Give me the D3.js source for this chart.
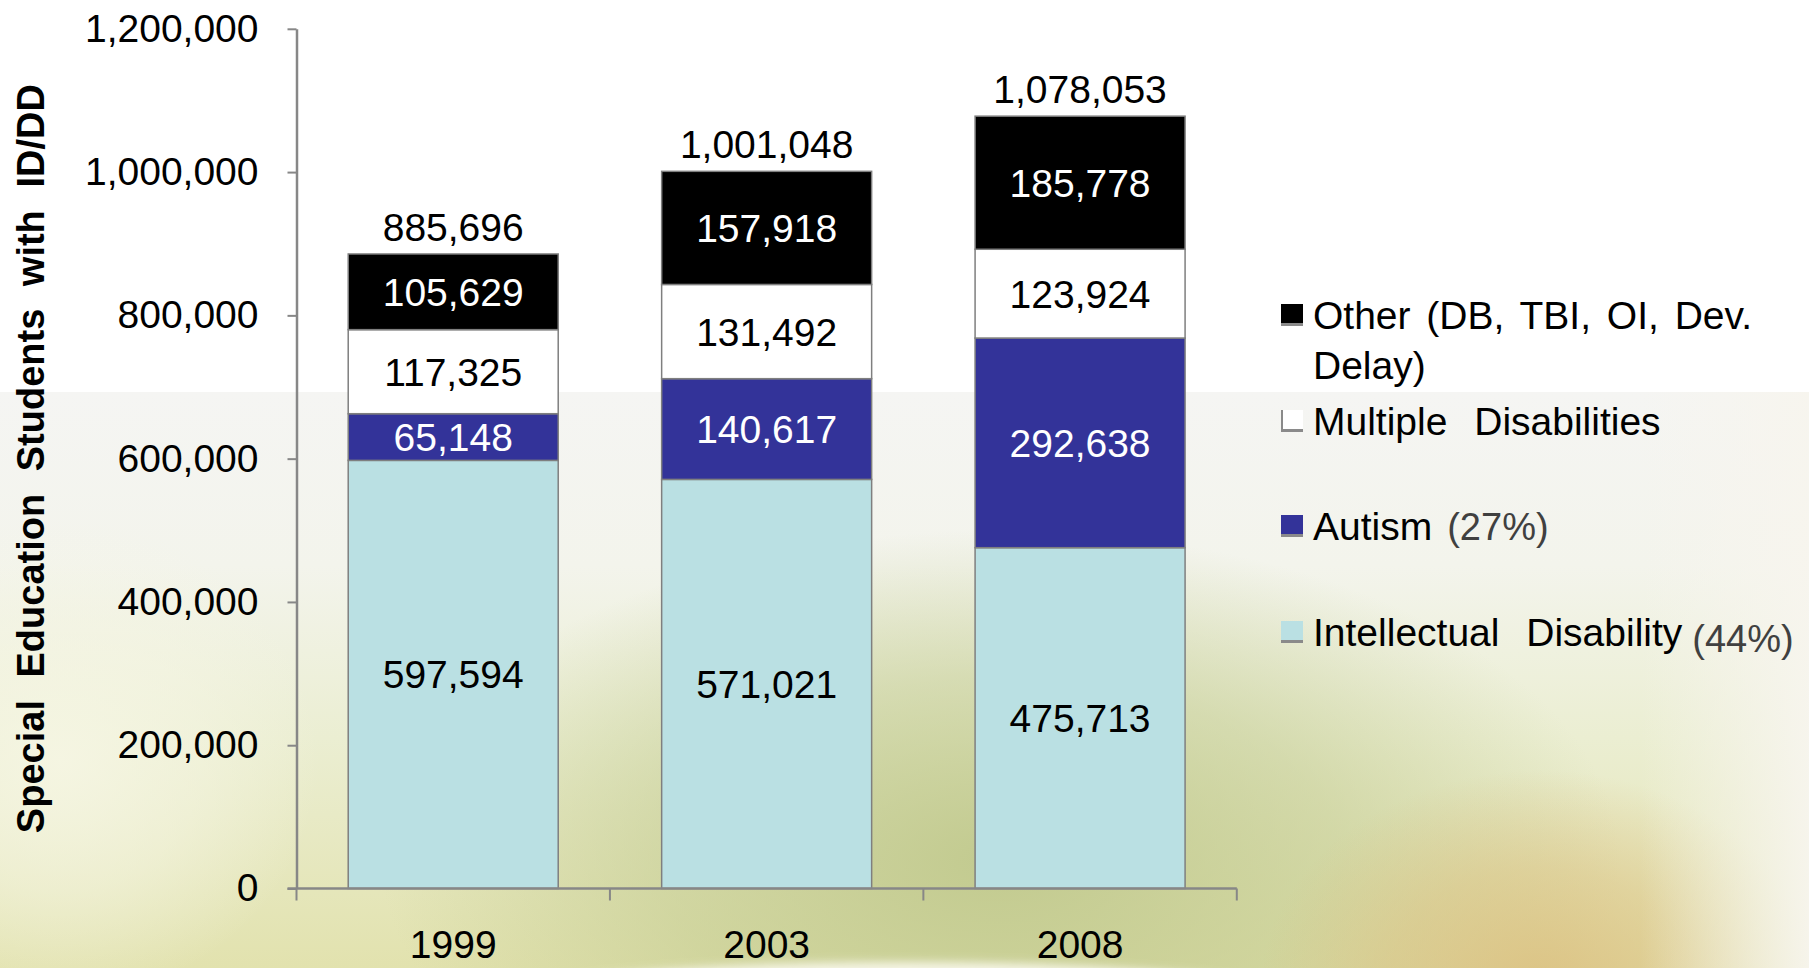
<!DOCTYPE html>
<html>
<head>
<meta charset="utf-8">
<script src="https://cdn.jsdelivr.net/npm/d3@7"></script>
<style>
  html, body { margin: 0; padding: 0; background: #ffffff; }
  svg { display: block; }
  text { font-family: "Liberation Sans", Arial, sans-serif; }
</style>
</head>
<body>
<svg id="chart" width="1809" height="968"></svg>
<script>
// ---------- data ----------
const categories = ["1999", "2003", "2008"];
const seriesKeys = ["intellectual", "autism", "multiple", "other"];
const intellectual = [597594, 571021, 475713];
const autism = [65148, 140617, 292638];
const multiple = [117325, 131492, 123924];
const other = [105629, 157918, 185778];
const totals = [885696, 1001048, 1078053];
const yTicks = [0, 200000, 400000, 600000, 800000, 1000000, 1200000];
const legendItems = [
  { key: "other", lines: ["Other (DB, TBI, OI, Dev.", "Delay)"], note: "" },
  { key: "multiple", lines: ["Multiple Disabilities"], note: "" },
  { key: "autism", lines: ["Autism"], note: "(27%)" },
  { key: "intellectual", lines: ["Intellectual Disability"], note: "(44%)" }
];
const yTitle = "Special Education Students with ID/DD";

// ---------- styles ----------
const colors = { intellectual: "#bae0e3", autism: "#333399", multiple: "#ffffff", other: "#000000" };
const labelColors = { intellectual: "#000000", autism: "#ffffff", multiple: "#000000", other: "#ffffff" };
const wordSpacing = { other: 5, multiple: 16, autism: 5, intellectual: 16 };
const axisColor = "#878787";

const W = 1809, H = 968;
const plot = { left: 296.5, right: 1236.8, top: 28.8, bottom: 888.5 };

const svg = d3.select("#chart");
const defs = svg.append("defs");

// ---------- background ----------
const lg = defs.append("linearGradient").attr("id", "bgV").attr("x1", 0).attr("y1", 0).attr("x2", 0).attr("y2", 1);
[[0, "#f5f5f3"], [0.3, "#f3f4ec"], [0.6, "#ebeed2"], [1, "#e2e2ae"]].forEach(s =>
  lg.append("stop").attr("offset", s[0]).attr("stop-color", s[1]));

function radial(id, color, op) {
  const g = defs.append("radialGradient").attr("id", id);
  g.append("stop").attr("offset", 0).attr("stop-color", color).attr("stop-opacity", op);
  g.append("stop").attr("offset", 0.55).attr("stop-color", color).attr("stop-opacity", op * 0.55);
  g.append("stop").attr("offset", 1).attr("stop-color", color).attr("stop-opacity", 0);
}
radial("greenBlob", "#bec78a", 0.9);
radial("tanBlob", "#dcc080", 0.9);
radial("paleBlob", "#f6f6e4", 0.9);

const rg = defs.append("linearGradient").attr("id", "rightFade").attr("x1", 0).attr("y1", 0).attr("x2", 1).attr("y2", 0);
rg.append("stop").attr("offset", 0).attr("stop-color", "#f7f5ee").attr("stop-opacity", 0);
rg.append("stop").attr("offset", 1).attr("stop-color", "#f7f5ee").attr("stop-opacity", 0.95);

defs.append("filter").attr("id", "blur").attr("x", "-20%").attr("y", "-80%").attr("width", "140%").attr("height", "260%")
  .append("feGaussianBlur").attr("stdDeviation", 5);

const bg = svg.append("g");
bg.append("rect").attr("width", W).attr("height", H).attr("fill", "#ffffff");
const lower = bg.append("g");
lower.append("rect").attr("x", 0).attr("y", 392).attr("width", W).attr("height", H - 392).attr("fill", "url(#bgV)");
const clipBg = defs.append("clipPath").attr("id", "clipLower");
clipBg.append("rect").attr("x", 0).attr("y", 392).attr("width", W).attr("height", H - 392);
const blobs = lower.append("g").attr("clip-path", "url(#clipLower)");
blobs.append("ellipse").attr("cx", 1000).attr("cy", 860).attr("rx", 620).attr("ry", 330).attr("fill", "url(#greenBlob)");
blobs.append("ellipse").attr("cx", 1540).attr("cy", 990).attr("rx", 280).attr("ry", 220).attr("fill", "url(#tanBlob)");
blobs.append("ellipse").attr("cx", 60).attr("cy", 760).attr("rx", 260).attr("ry", 240).attr("fill", "url(#paleBlob)");
blobs.append("rect").attr("x", 1640).attr("y", 392).attr("width", 169).attr("height", H - 392).attr("fill", "url(#rightFade)");
blobs.append("ellipse").attr("cx", 905).attr("cy", 1000).attr("rx", 400).attr("ry", 38)
  .attr("fill", "#f8f7ea").attr("opacity", 0.95).attr("filter", "url(#blur)");

// ---------- scales ----------
const x = d3.scaleBand().domain(categories).range([plot.left, plot.right]).paddingInner(0.33).paddingOuter(0.165);
const xb = d3.scaleBand().domain(categories).range([plot.left, plot.right]).padding(0);
const y = d3.scaleLinear().domain([0, 1200000]).range([plot.bottom, plot.top]);

const rows = categories.map((c, i) => ({
  cat: c, intellectual: intellectual[i], autism: autism[i], multiple: multiple[i], other: other[i], total: totals[i]
}));
const stacked = d3.stack().keys(seriesKeys)(rows);

// ---------- bars ----------
const barsG = svg.append("g");
stacked.forEach(layer => {
  const key = layer.key;
  barsG.append("g").selectAll("rect").data(layer).join("rect")
    .attr("x", d => x(d.data.cat))
    .attr("width", x.bandwidth())
    .attr("y", d => y(d[1]))
    .attr("height", d => y(d[0]) - y(d[1]))
    .attr("fill", colors[key])
    .attr("stroke", "#7f7f7f")
    .attr("stroke-width", 1.5);
  barsG.append("g").selectAll("text").data(layer).join("text")
    .attr("x", d => x(d.data.cat) + x.bandwidth() / 2)
    .attr("y", d => (y(d[0]) + y(d[1])) / 2)
    .attr("dy", "0.36em")
    .attr("text-anchor", "middle")
    .attr("font-size", 39)
    .attr("fill", labelColors[key])
    .text(d => d3.format(",")(d.data[key]));
});

// totals
svg.append("g").selectAll("text").data(rows).join("text")
  .attr("x", d => x(d.cat) + x.bandwidth() / 2)
  .attr("y", d => y(d.total) - 13)
  .attr("text-anchor", "middle")
  .attr("font-size", 39)
  .attr("fill", "#000")
  .text(d => d3.format(",")(d.total));

// ---------- axes ----------
const yAxis = svg.append("g").attr("transform", `translate(${plot.left},0)`)
  .call(d3.axisLeft(y).tickValues(yTicks).tickFormat(d3.format(",")).tickSize(9).tickSizeOuter(0).tickPadding(29));
yAxis.selectAll("path.domain").attr("stroke", axisColor).attr("stroke-width", 2.5);
yAxis.selectAll(".tick line").attr("stroke", axisColor).attr("stroke-width", 2);
yAxis.selectAll(".tick text").attr("font-size", 39).attr("fill", "#000")
  .attr("font-family", "'Liberation Sans', Arial, sans-serif");

const xAxis = svg.append("g").attr("transform", `translate(0,${plot.bottom})`)
  .call(d3.axisBottom(x).tickSize(0).tickPadding(42));
xAxis.select("path.domain").remove();
xAxis.selectAll(".tick text").attr("font-size", 39).attr("fill", "#000")
  .attr("font-family", "'Liberation Sans', Arial, sans-serif");

// x axis line & boundary ticks
svg.append("line").attr("x1", plot.left - 9).attr("x2", plot.right)
  .attr("y1", plot.bottom).attr("y2", plot.bottom)
  .attr("stroke", axisColor).attr("stroke-width", 2.5);
const bounds = categories.map(c => xb(c)).concat([plot.right]);
svg.append("g").selectAll("line").data(bounds).join("line")
  .attr("x1", d => d).attr("x2", d => d)
  .attr("y1", plot.bottom).attr("y2", plot.bottom + 12)
  .attr("stroke", axisColor).attr("stroke-width", 2);

// y title
svg.append("text")
  .attr("transform", `translate(44,${(plot.top + plot.bottom) / 2}) rotate(-90)`)
  .attr("text-anchor", "middle")
  .attr("font-size", 38)
  .attr("font-weight", "bold")
  .attr("word-spacing", 12)
  .attr("fill", "#000")
  .text(yTitle);

// ---------- legend ----------
const legendPos = [315, 421, 526, 632];
const legend = svg.append("g");
legendItems.forEach((item, i) => {
  const cy = legendPos[i];
  const g = legend.append("g");
  g.append("rect").attr("x", 1281).attr("y", cy - 11).attr("width", 22).attr("height", 22)
    .attr("fill", colors[item.key]);
  g.append("rect").attr("x", 1281).attr("y", cy + 8).attr("width", 22).attr("height", 3)
    .attr("fill", "#8a8a8a");
  g.append("rect").attr("x", 1281).attr("y", cy - 11).attr("width", 2).attr("height", 22)
    .attr("fill", "#8a8a8a").attr("opacity", item.key === "multiple" ? 1 : 0);
  let lastText = null;
  item.lines.forEach((ln, j) => {
    lastText = g.append("text")
      .attr("x", 1313).attr("y", cy + j * 49.6)
      .attr("dy", "0.36em")
      .attr("font-size", 39)
      .attr("word-spacing", wordSpacing[item.key])
      .attr("fill", "#000")
      .text(ln);
  });
  if (item.note) {
    const w = lastText.node().getComputedTextLength();
    g.append("text")
      .attr("x", 1313 + w + (item.key === "autism" ? 15 : 10))
      .attr("y", cy + (item.key === "autism" ? 0 : 6))
      .attr("dy", "0.36em")
      .attr("font-size", 38)
      .attr("font-family", "Lato, 'Open Sans', sans-serif")
      .attr("fill", "#404040")
      .text(item.note);
  }
});
</script>
</body>
</html>
